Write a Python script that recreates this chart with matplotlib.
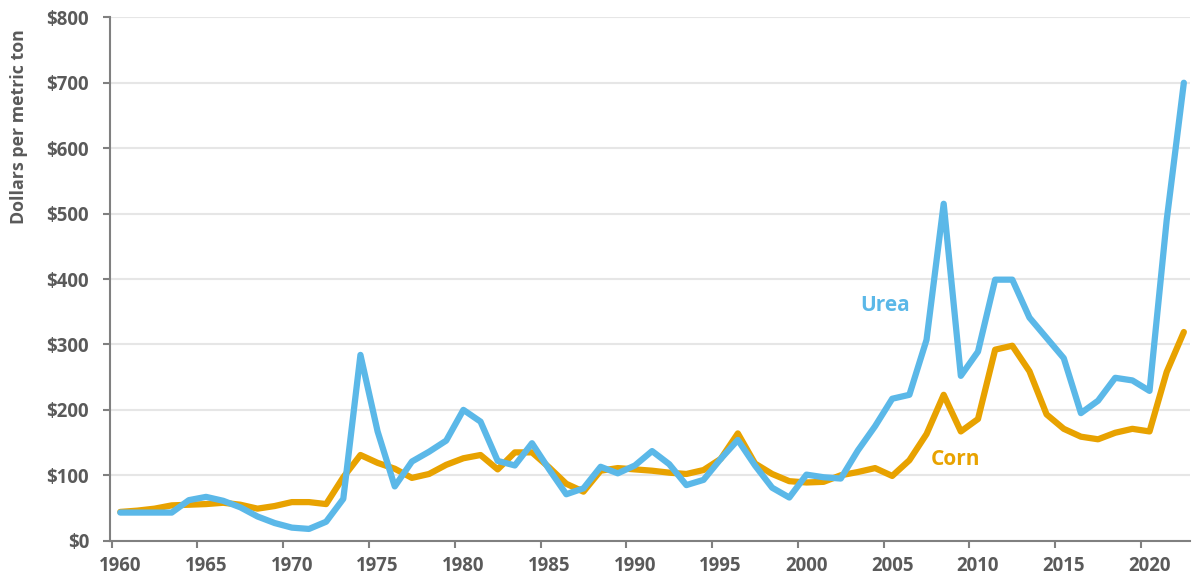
import numpy as np
import matplotlib

matplotlib.use("Agg")
import matplotlib.pyplot as plt
from matplotlib.ticker import FixedLocator, NullFormatter

plt.rcParams["font.family"] = ["Open Sans", "DejaVu Sans"]

years = np.arange(1960, 2023)

urea = [
    43, 43, 43, 43, 62, 67, 61, 51, 37, 27,
    20, 18, 29, 64, 284, 167, 83, 121, 136, 153,
    200, 182, 122, 115, 149, 109, 71, 80, 113, 103,
    115, 137, 117, 85, 93, 125, 154, 115, 81, 66,
    101, 97, 95, 138, 175, 217, 223, 307, 515, 252,
    289, 399, 399, 341, 310, 279, 195, 214, 249, 245,
    229, 490, 700,
]

corn = [
    44, 46, 49, 54, 55, 56, 58, 55, 49, 53,
    59, 59, 56, 97, 131, 119, 110, 96, 102, 116,
    126, 131, 109, 135, 135, 112, 87, 75, 107, 111,
    109, 107, 104, 102, 108, 125, 164, 118, 102, 91,
    89, 90, 100, 105, 111, 99, 123, 163, 223, 167,
    186, 292, 298, 259, 193, 171, 159, 155, 165, 171,
    167, 258, 319,
]

y_ticks = np.arange(0, 801, 100)
x_ticks = np.arange(1960, 2021, 5)

urea_color = "#5bb8e8"
corn_color = "#e8a200"
text_color = "#5a5a5a"
axis_color = "#808080"

fig = plt.figure(figsize=(11.93, 5.77), dpi=100)
ax = fig.add_axes([0.0922, 0.0629, 0.9053, 0.9071])

# points sit in the middle of each year
x = years + 0.5
ax.plot(x, corn, color=corn_color, linewidth=4.5, solid_joinstyle="round", solid_capstyle="round", zorder=3)
ax.plot(x, urea, color=urea_color, linewidth=4.5, solid_joinstyle="round", solid_capstyle="round", zorder=4)

ax.text(2005.1, 351, "Urea", color=urea_color, fontsize=15, fontweight="bold", ha="center", va="baseline")
ax.text(2009.2, 116, "Corn", color=corn_color, fontsize=15, fontweight="bold", ha="center", va="baseline")

ax.set_xlim(1959.9, 2022.86)
ax.set_ylim(0, 800)
ax.set_yticks(y_ticks)
ax.set_yticklabels([f"${v}" for v in y_ticks])

# tick marks on the year, labels centred on the middle of the year
ax.xaxis.set_major_locator(FixedLocator(x_ticks))
ax.xaxis.set_major_formatter(NullFormatter())
ax.xaxis.set_minor_locator(FixedLocator(x_ticks + 0.5))
ax.set_xticklabels([str(v) for v in x_ticks], minor=True)

ax.grid(axis="y", color="#e6e6e6", linewidth=1.5, zorder=0)
ax.set_axisbelow(True)

for side in ["top", "right"]:
    ax.spines[side].set_visible(False)
for side in ["left", "bottom"]:
    ax.spines[side].set_color(axis_color)
    ax.spines[side].set_linewidth(1.5)

ax.tick_params(axis="both", which="major", colors=axis_color, length=5, width=1.5,
               labelcolor=text_color, labelsize=13.4, pad=10)
ax.tick_params(axis="x", which="minor", length=0, labelcolor=text_color, labelsize=13.4, pad=11)
for label in ax.get_xticklabels(minor=True) + ax.get_yticklabels():
    label.set_fontweight("bold")

fig.text(19 / 1193, 1 - 126.5 / 577, "Dollars per metric ton", rotation=90, color=text_color,
         fontsize=12.8, fontweight="bold", ha="center", va="center")

fig.savefig("out.png", dpi=100)
plt.close(fig)
